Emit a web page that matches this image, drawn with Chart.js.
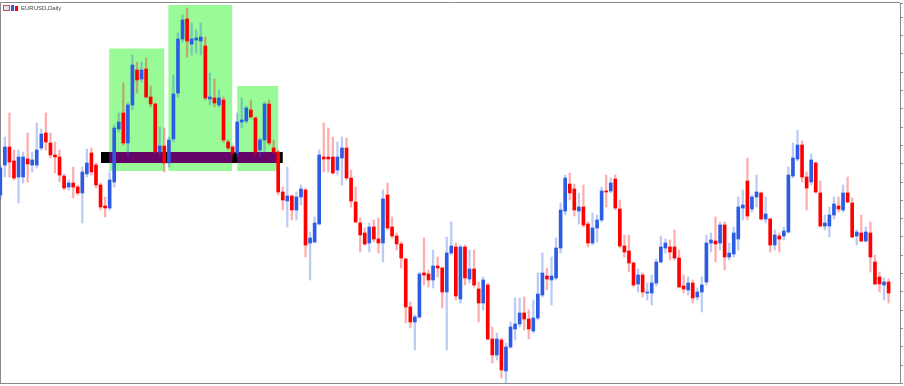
<!DOCTYPE html>
<html>
<head>
<meta charset="utf-8">
<title>EURUSD,Daily</title>
<script src="https://cdn.jsdelivr.net/npm/chart.js@4.4.1/dist/chart.umd.min.js"></script>
<style>
  html, body { margin: 0; padding: 0; background: #fff; }
</style>
</head>
<body>
<canvas id="chart" width="904" height="386"></canvas>
<script>
const symbolName = "EURUSD,Daily";

// daily candles, oldest first
const opens = [
  1.1205,1.1235,1.1253,1.1239,1.1223,1.1223,1.1241,1.1235,1.1235,1.1252,
  1.1267,1.1257,1.1245,1.1243,1.1224,1.1213,1.1217,1.1213,1.1207,1.1226,
  1.1247,1.1235,1.1215,1.1194,1.1192,1.1218,1.1271,1.1287,1.1257,1.1295,
  1.1330,1.1321,1.1331,1.1303,1.1296,1.1248,1.1254,1.1237,1.1261,1.1307,
  1.1361,1.1381,1.1356,1.1360,1.1359,1.1354,1.1301,1.1302,1.1295,1.1300,
  1.1258,1.1253,1.1247,1.1278,1.1279,1.1290,1.1282,1.1250,1.1260,1.1296,
  1.1252,1.1248,1.1208,1.1199,1.1204,1.1190,1.1203,1.1210,1.1157,1.1158,
  1.1176,1.1243,1.1243,1.1243,1.1230,1.1242,1.1252,1.1222,1.1198,1.1177,
  1.1167,1.1157,1.1173,1.1161,1.1157,1.1205,1.1173,1.1164,1.1156,1.1141,
  1.1093,1.1078,1.1083,1.1127,1.1126,1.1120,1.1134,1.1132,1.1108,1.1147,
  1.1153,1.1101,1.1153,1.1121,1.1131,1.1111,1.1097,1.1115,1.1061,1.1045,
  1.1060,1.1029,1.1053,1.1071,1.1076,1.1087,1.1081,1.1069,1.1082,1.1105,
  1.1124,1.1120,1.1122,1.1152,1.1189,1.1216,1.1211,1.1189,1.1193,1.1176,
  1.1157,1.1172,1.1180,1.1209,1.1209,1.1221,1.1191,1.1154,1.1149,1.1137,
  1.1116,1.1125,1.1107,1.1107,1.1117,1.1138,1.1152,1.1153,1.1153,1.1142,
  1.1114,1.1110,1.1117,1.1103,1.1108,1.1118,1.1157,1.1159,1.1157,1.1175,
  1.1143,1.1146,1.1161,1.1192,1.1219,1.1191,1.1203,1.1207,1.1181,1.1181,
  1.1155,1.1164,1.1164,1.1168,1.1224,1.1241,1.1255,1.1223,1.1218,1.1237,
  1.1207,1.1174,1.1174,1.1185,1.1194,1.1190,1.1207,1.1197,1.1164,1.1167,
  1.1159,1.1167,1.1138,1.1123,1.1115,1.1118
];
const highs = [
  1.1235,1.1263,1.1287,1.1250,1.1250,1.1248,1.1267,1.1248,1.1277,1.1271,
  1.1287,1.1267,1.1258,1.1250,1.1226,1.1220,1.1233,1.1215,1.1233,1.1251,
  1.1252,1.1237,1.1217,1.1203,1.1228,1.1275,1.1287,1.1317,1.1297,1.1345,
  1.1338,1.1338,1.1342,1.1314,1.1297,1.1273,1.1272,1.1263,1.1325,1.1367,
  1.1385,1.1392,1.1377,1.1370,1.1377,1.1363,1.1327,1.1321,1.1310,1.1303,
  1.1260,1.1255,1.1287,1.1302,1.1294,1.1300,1.1283,1.1262,1.1298,1.1300,
  1.1260,1.1250,1.1213,1.1233,1.1205,1.1208,1.1215,1.1212,1.1168,1.1183,
  1.1250,1.1277,1.1272,1.1263,1.1258,1.1263,1.1262,1.1230,1.1213,1.1182,
  1.1172,1.1177,1.1180,1.1182,1.1210,1.1217,1.1183,1.1167,1.1158,1.1142,
  1.1098,1.1085,1.1128,1.1162,1.1130,1.1150,1.1143,1.1133,1.1163,1.1178,
  1.1157,1.1155,1.1155,1.1150,1.1150,1.1118,1.1123,1.1117,1.1073,1.1067,
  1.1062,1.1057,1.1078,1.1102,1.1102,1.1103,1.1090,1.1100,1.1127,1.1147,
  1.1132,1.1143,1.1162,1.1197,1.1225,1.1227,1.1216,1.1207,1.1215,1.1178,
  1.1187,1.1185,1.1213,1.1225,1.1222,1.1225,1.1200,1.1165,1.1165,1.1138,
  1.1131,1.1127,1.1117,1.1125,1.1141,1.1164,1.1161,1.1160,1.1170,1.1150,
  1.1125,1.1123,1.1120,1.1112,1.1123,1.1165,1.1167,1.1183,1.1178,1.1178,
  1.1157,1.1173,1.1203,1.1210,1.1242,1.1205,1.1225,1.1208,1.1203,1.1182,
  1.1170,1.1167,1.1173,1.1233,1.1257,1.1270,1.1259,1.1228,1.1246,1.1238,
  1.1219,1.1185,1.1193,1.1203,1.1203,1.1215,1.1223,1.1202,1.1170,1.1185,
  1.1173,1.1178,1.1145,1.1128,1.1122,1.1121
];
const lows = [
  1.1200,1.1223,1.1223,1.1220,1.1197,1.1217,1.1218,1.1228,1.1232,1.1250,
  1.1250,1.1242,1.1227,1.1218,1.1210,1.1210,1.1202,1.1205,1.1177,1.1223,
  1.1225,1.1212,1.1190,1.1183,1.1190,1.1213,1.1268,1.1255,1.1243,1.1290,
  1.1307,1.1318,1.1302,1.1293,1.1247,1.1245,1.1228,1.1233,1.1258,1.1303,
  1.1358,1.1343,1.1345,1.1347,1.1345,1.1300,1.1295,1.1293,1.1293,1.1258,
  1.1250,1.1243,1.1243,1.1272,1.1277,1.1282,1.1243,1.1243,1.1247,1.1255,
  1.1247,1.1205,1.1190,1.1173,1.1180,1.1180,1.1195,1.1143,1.1120,1.1157,
  1.1175,1.1228,1.1228,1.1226,1.1225,1.1215,1.1220,1.1193,1.1177,1.1148,
  1.1155,1.1148,1.1158,1.1147,1.1138,1.1170,1.1162,1.1150,1.1132,1.1077,
  1.1072,1.1050,1.1082,1.1115,1.1113,1.1112,1.1123,1.1092,1.1050,1.1145,
  1.1100,1.1097,1.1115,1.1117,1.1113,1.1078,1.1090,1.1060,1.1037,1.1040,
  1.1022,1.1017,1.1052,1.1060,1.1073,1.1070,1.1061,1.1067,1.1080,1.1103,
  1.1110,1.1095,1.1120,1.1147,1.1185,1.1200,1.1184,1.1176,1.1173,1.1153,
  1.1155,1.1158,1.1178,1.1193,1.1207,1.1190,1.1152,1.1143,1.1128,1.1113,
  1.1108,1.1103,1.1100,1.1095,1.1114,1.1137,1.1147,1.1140,1.1140,1.1112,
  1.1107,1.1105,1.1097,1.1100,1.1088,1.1115,1.1148,1.1138,1.1150,1.1130,
  1.1140,1.1143,1.1150,1.1180,1.1180,1.1188,1.1193,1.1180,1.1177,1.1148,
  1.1150,1.1148,1.1160,1.1167,1.1222,1.1239,1.1218,1.1190,1.1215,1.1207,
  1.1173,1.1170,1.1163,1.1181,1.1188,1.1188,1.1197,1.1162,1.1155,1.1158,
  1.1158,1.1128,1.1115,1.1108,1.1100,1.1097
];
const closes = [
  1.1232,1.1253,1.1238,1.1222,1.1243,1.1243,1.1236,1.1240,1.1250,1.1266,
  1.1258,1.1245,1.1243,1.1225,1.1212,1.1217,1.1213,1.1207,1.1228,1.1237,
  1.1228,1.1215,1.1193,1.1192,1.1220,1.1272,1.1278,1.1257,1.1295,1.1335,
  1.1320,1.1330,1.1303,1.1296,1.1248,1.1254,1.1237,1.1260,1.1306,1.1361,
  1.1380,1.1359,1.1361,1.1362,1.1363,1.1302,1.1303,1.1297,1.1302,1.1260,
  1.1252,1.1247,1.1278,1.1280,1.1292,1.1283,1.1248,1.1260,1.1296,1.1257,
  1.1248,1.1208,1.1200,1.1204,1.1190,1.1203,1.1211,1.1155,1.1162,1.1177,
  1.1245,1.1241,1.1241,1.1227,1.1243,1.1252,1.1222,1.1199,1.1178,1.1165,
  1.1156,1.1173,1.1161,1.1157,1.1201,1.1172,1.1164,1.1156,1.1142,1.1093,
  1.1078,1.1083,1.1126,1.1125,1.1120,1.1134,1.1132,1.1108,1.1147,1.1154,
  1.1104,1.1153,1.1122,1.1131,1.1115,1.1097,1.1120,1.1061,1.1045,1.1061,
  1.1030,1.1053,1.1073,1.1076,1.1087,1.1081,1.1071,1.1082,1.1106,1.1127,
  1.1121,1.1124,1.1152,1.1190,1.1222,1.1207,1.1190,1.1193,1.1175,1.1157,
  1.1172,1.1180,1.1209,1.1208,1.1217,1.1192,1.1154,1.1148,1.1137,1.1115,
  1.1125,1.1108,1.1108,1.1117,1.1138,1.1153,1.1157,1.1148,1.1142,1.1113,
  1.1111,1.1117,1.1102,1.1108,1.1115,1.1157,1.1160,1.1156,1.1175,1.1143,
  1.1147,1.1167,1.1193,1.1195,1.1184,1.1203,1.1208,1.1181,1.1186,1.1155,
  1.1165,1.1161,1.1169,1.1225,1.1242,1.1255,1.1223,1.1212,1.1240,1.1208,
  1.1174,1.1177,1.1185,1.1196,1.1191,1.1207,1.1198,1.1163,1.1168,1.1159,
  1.1168,1.1143,1.1116,1.1116,1.1118,1.1107
];

// head & shoulders boxes (bar index range, price range)
const zoneFrom = [23.9, 36.9, 52.0];
const zoneTo = [36.0, 50.9, 61.0];
const zoneHigh = [1.13515, 1.1395, 1.1314];
const zoneLow = [1.1229, 1.1229, 1.1229];

// neckline band
const neckFrom = 22.1, neckTo = 62.0;
const neckHigh = 1.1248, neckLow = 1.1237;

const bullCol = "rgb(45,92,228)";
const bearCol = "rgb(255,0,0)";
const bullWick = "rgba(45,92,228,0.32)";
const bearWick = "rgba(255,0,0,0.32)";

const up = opens.map((o, i) => closes[i] >= o);
const bodies = opens.map((o, i) => ({ x: i, y: [o, closes[i]] }));
const wicks = opens.map((o, i) => ({ x: i, y: [lows[i], highs[i]] }));

const zonesPlugin = {
  id: "zones",
  beforeDatasetsDraw(chart) {
    const { ctx, chartArea: a, scales: { x, y } } = chart;
    ctx.save();
    // frame
    ctx.strokeStyle = "#8a8a8a";
    ctx.lineWidth = 1;
    ctx.beginPath();
    ctx.moveTo(0.5, a.bottom + 0.5); ctx.lineTo(0.5, a.top - 0.5); ctx.lineTo(a.right, a.top - 0.5);
    ctx.moveTo(0, a.bottom + 0.5); ctx.lineTo(a.right, a.bottom + 0.5);
    ctx.stroke();

    ctx.beginPath();
    ctx.rect(a.left, a.top, a.right - a.left, a.bottom - a.top);
    ctx.clip();
    const ny1 = y.getPixelForValue(neckHigh), ny2 = y.getPixelForValue(neckLow);
    const nx1 = x.getPixelForValue(neckFrom), nx2 = x.getPixelForValue(neckTo);
    ctx.fillStyle = "rgb(152,251,152)";
    zoneFrom.forEach((f, k) => {
      const x1 = x.getPixelForValue(f), x2 = x.getPixelForValue(zoneTo[k]);
      const y1 = y.getPixelForValue(zoneHigh[k]), y2 = y.getPixelForValue(zoneLow[k]);
      ctx.fillRect(x1, y1, x2 - x1, y2 - y1);
    });
    ctx.fillStyle = "#000";
    ctx.fillRect(nx1, ny1, nx2 - nx1, ny2 - ny1);
    ctx.fillStyle = "rgb(103,4,103)";
    zoneFrom.forEach((f, k) => {
      const x1 = Math.max(nx1, x.getPixelForValue(f));
      const x2 = Math.min(nx2, x.getPixelForValue(zoneTo[k]));
      ctx.fillRect(x1, ny1, x2 - x1, ny2 - ny1);
    });
    ctx.restore();
  },
  afterDraw(chart) {
    const ctx = chart.ctx;
    ctx.save();
    // small chart icon + symbol caption
    ctx.fillStyle = "rgb(225,225,240)";
    ctx.fillRect(3, 5, 7, 6);
    ctx.strokeStyle = "rgb(200,80,80)";
    ctx.strokeRect(3.5, 5.5, 6, 5);
    ctx.fillStyle = bullCol;
    ctx.fillRect(11, 5, 3, 6);
    ctx.fillStyle = bearCol;
    ctx.fillRect(15, 6, 3, 5);
    ctx.fillStyle = "#444";
    ctx.font = "6px 'Liberation Sans', Arial, sans-serif";
    ctx.textBaseline = "middle";
    ctx.fillText(symbolName, 21, 8.5);
    ctx.restore();
  }
};

new Chart(document.getElementById("chart"), {
  type: "bar",
  data: {
    datasets: [
      {
        label: "body",
        data: bodies,
        backgroundColor: up.map(u => u ? bullCol : bearCol),
        barThickness: 3,
        borderWidth: 0,
        grouped: false,
        order: 0
      },
      {
        label: "wick",
        data: wicks,
        backgroundColor: up.map(u => u ? bullWick : bearWick),
        barThickness: 1.6,
        borderWidth: 0,
        grouped: false,
        order: 1
      }
    ]
  },
  options: {
    responsive: false,
    animation: false,
    events: [],
    layout: { padding: { left: 0, top: 3, right: 1, bottom: 3 } },
    scales: {
      x: {
        type: "linear",
        display: false,
        min: -0.07,
        max: 197.5,
        offset: false
      },
      y: {
        type: "linear",
        position: "right",
        min: 1.1017,
        max: 1.1397,
        afterFit: s => { s.width = 3; },
        grid: { drawOnChartArea: false, tickLength: 3, color: "#8a8a8a" },
        border: { color: "#8a8a8a" },
        ticks: { display: false, stepSize: 0.00183 }
      }
    },
    plugins: {
      legend: { display: false },
      tooltip: { enabled: false }
    }
  },
  plugins: [zonesPlugin]
});
</script>
</body>
</html>
